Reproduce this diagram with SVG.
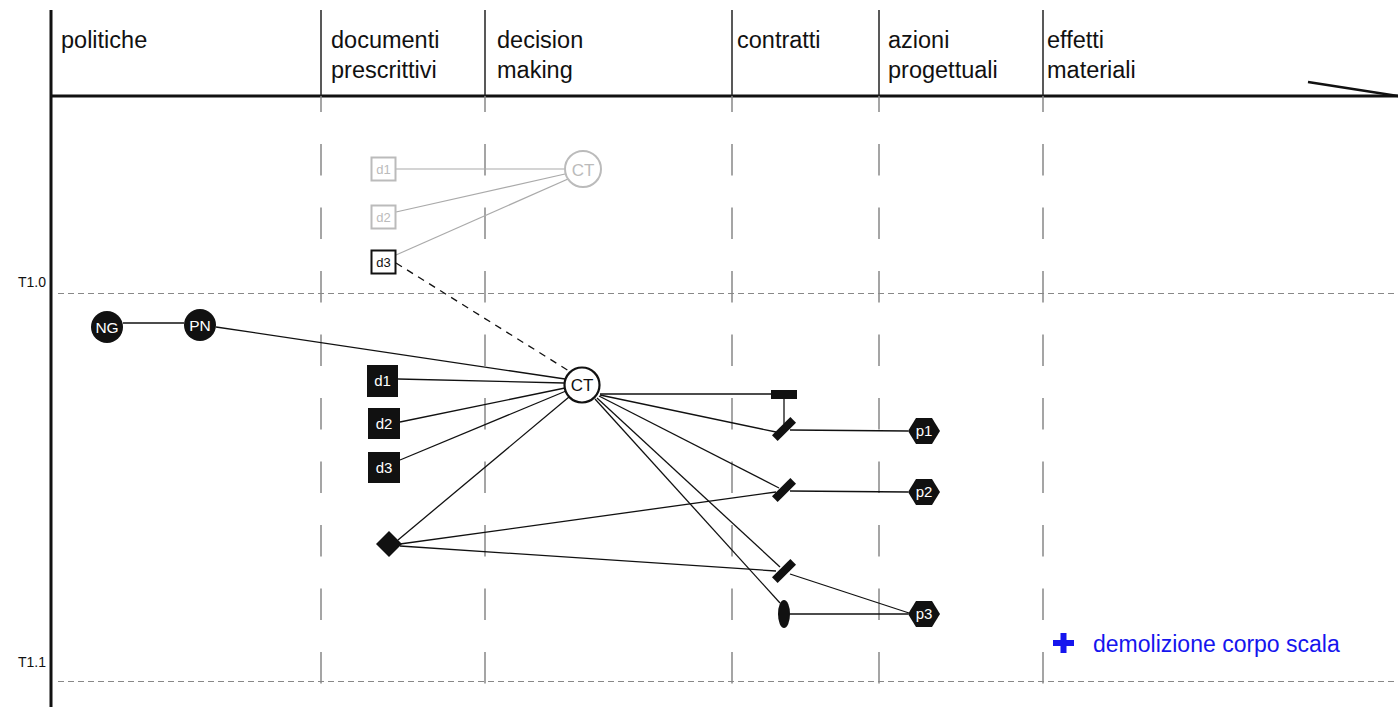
<svg xmlns="http://www.w3.org/2000/svg" width="1398" height="707" viewBox="0 0 1398 707">
<style>
.hdr{font-family:"Liberation Sans",Arial,sans-serif;font-size:23.5px;fill:#111}
.lbl{font-family:"Liberation Sans",Arial,sans-serif;font-size:14px;fill:#111}
.wt{font-family:"Liberation Sans",Arial,sans-serif;font-size:15px;fill:#fff;text-anchor:middle}
.gt{font-family:"Liberation Sans",Arial,sans-serif;font-size:13px;fill:#bbb;text-anchor:middle}
.colh{stroke:#222;stroke-width:1.5}
.cold{stroke:#888;stroke-width:1.5;stroke-dasharray:31.5 32;stroke-dashoffset:15.5}
.tl{stroke:#888;stroke-width:1;stroke-dasharray:6 4}
.e{stroke:#111;stroke-width:1.3;fill:none}
.eg{stroke:#aaa;stroke-width:1.2;fill:none}
.blk{fill:#111}
</style>
<rect width="1398" height="707" fill="#fff"/>
<g id="grid">
<line x1="51" y1="10" x2="51" y2="707" stroke="#111" stroke-width="3"/>
<line x1="51" y1="96" x2="1398" y2="96" stroke="#111" stroke-width="3"/>
<line x1="1308" y1="82" x2="1398" y2="96" stroke="#111" stroke-width="2.5"/>
<line class="colh" x1="321" y1="10" x2="321" y2="96"/>
<line class="colh" x1="485" y1="10" x2="485" y2="96"/>
<line class="colh" x1="732" y1="10" x2="732" y2="96"/>
<line class="colh" x1="879" y1="10" x2="879" y2="96"/>
<line class="colh" x1="1043" y1="10" x2="1043" y2="96"/>
<line class="cold" x1="321" y1="96" x2="321" y2="707"/>
<line class="cold" x1="485" y1="96" x2="485" y2="707"/>
<line class="cold" x1="732" y1="96" x2="732" y2="707"/>
<line class="cold" x1="879" y1="96" x2="879" y2="707"/>
<line class="cold" x1="1043" y1="96" x2="1043" y2="707"/>
<line class="tl" x1="58" y1="293.5" x2="1398" y2="293.5"/>
<line class="tl" x1="58" y1="681.5" x2="1398" y2="681.5"/>
<text class="hdr" x="61" y="48">politiche</text>
<text class="hdr" x="331" y="48">documenti</text>
<text class="hdr" x="331" y="78">prescrittivi</text>
<text class="hdr" x="497" y="48">decision</text>
<text class="hdr" x="497" y="78">making</text>
<text class="hdr" x="737" y="48">contratti</text>
<text class="hdr" x="888" y="48">azioni</text>
<text class="hdr" x="888" y="78">progettuali</text>
<text class="hdr" x="1047" y="48">effetti</text>
<text class="hdr" x="1047" y="78">materiali</text>
<text class="lbl" x="18" y="287">T1.0</text>
<text class="lbl" x="18" y="667">T1.1</text>
</g>
<g id="connectors">
<line class="eg" x1="396" y1="169" x2="564" y2="169"/>
<line class="eg" x1="396" y1="212" x2="565" y2="174"/>
<line class="eg" x1="396" y1="255" x2="568" y2="179"/>
<line class="e" x1="396" y1="263" x2="569" y2="371" stroke-dasharray="7 6"/>
<line class="e" x1="123" y1="323" x2="184" y2="323"/>
<line class="e" x1="216" y1="327" x2="565" y2="379"/>
<line class="e" x1="398" y1="379" x2="564" y2="383"/>
<line class="e" x1="400" y1="422" x2="565" y2="388"/>
<line class="e" x1="400" y1="460" x2="566" y2="391"/>
<line class="e" x1="398" y1="540" x2="569" y2="397"/>
<line class="e" x1="600" y1="394" x2="771" y2="394"/>
<line class="e" x1="784" y1="399" x2="784" y2="424"/>
<line class="e" x1="600" y1="395" x2="776" y2="432"/>
<line class="e" x1="599" y1="396" x2="779" y2="488"/>
<line class="e" x1="597" y1="398" x2="780" y2="567"/>
<line class="e" x1="595" y1="399" x2="780" y2="603"/>
<line class="e" x1="400" y1="544" x2="776" y2="492"/>
<line class="e" x1="400" y1="546" x2="776" y2="571"/>
<line class="e" x1="790" y1="430" x2="908" y2="431"/>
<line class="e" x1="790" y1="491" x2="908" y2="492"/>
<line class="e" x1="790" y1="574" x2="909" y2="613"/>
<line class="e" x1="790" y1="614" x2="908" y2="614"/>
</g>
<g id="g_d1"><rect x="371.5" y="157.5" width="24" height="23" fill="#fff" stroke="#bbb" stroke-width="2"/><text class="gt" x="383.5" y="174">d1</text></g>
<g id="g_d2"><rect x="371.5" y="205.5" width="24" height="23" fill="#fff" stroke="#bbb" stroke-width="2"/><text class="gt" x="383.5" y="222">d2</text></g>
<g id="g_d3"><rect x="371.5" y="250.5" width="24" height="23" fill="#fff" stroke="#111" stroke-width="2"/><text class="gt" x="383.5" y="267" style="fill:#111">d3</text></g>
<g id="g_CT"><circle cx="583" cy="169" r="18" fill="#fff" stroke="#bbb" stroke-width="2"/><text class="gt" x="583" y="175.5" style="font-size:17px">CT</text></g>
<g id="NG"><circle cx="107" cy="327" r="16" class="blk"/><text class="wt" x="107" y="332.5" style="font-size:15.5px">NG</text></g>
<g id="PN"><circle cx="200" cy="325" r="16" class="blk"/><text class="wt" x="200" y="330.5" style="font-size:15.5px">PN</text></g>
<g id="CT"><circle cx="582" cy="385" r="17.5" fill="#fff" stroke="#111" stroke-width="2.2"/><text x="582" y="391" text-anchor="middle" style="font-family:'Liberation Sans',Arial,sans-serif;font-size:17px;fill:#111">CT</text></g>
<g id="d1"><rect x="367" y="365" width="31" height="32" class="blk"/><text class="wt" x="382.5" y="386">d1</text></g>
<g id="d2"><rect x="368" y="408" width="32" height="31" class="blk"/><text class="wt" x="384" y="429">d2</text></g>
<g id="d3"><rect x="368" y="452" width="32" height="31" class="blk"/><text class="wt" x="384" y="473">d3</text></g>
<g id="diamond"><polygon points="389,531 402,544 389,557 376,544" class="blk"/></g>
<g id="contract"><rect x="771" y="390" width="26" height="9" class="blk"/></g>
<g id="s1"><rect x="771" y="425" width="26" height="8" class="blk" transform="rotate(-45 784 429)"/></g>
<g id="s2"><rect x="771" y="486" width="26" height="8" class="blk" transform="rotate(-45 784 490)"/></g>
<g id="s3"><rect x="771" y="567" width="26" height="8" class="blk" transform="rotate(-45 784 571)"/></g>
<g id="ell"><ellipse cx="784" cy="614" rx="6" ry="14" class="blk"/></g>
<g id="p1"><polygon points="908,431 916,418 932,418 940,431 932,444 916,444" class="blk"/><text class="wt" x="924" y="436">p1</text></g>
<g id="p2"><polygon points="908,492 916,479 932,479 940,492 932,505 916,505" class="blk"/><text class="wt" x="924" y="497">p2</text></g>
<g id="p3"><polygon points="908,614 916,601 932,601 940,614 932,627 916,627" class="blk"/><text class="wt" x="924" y="619">p3</text></g>
<g id="effect">
<rect x="1053" y="640" width="21" height="6" fill="#1515ee"/>
<rect x="1060.5" y="633" width="6" height="20" fill="#1515ee"/>
<text x="1093" y="652" style="font-family:'Liberation Sans',Arial,sans-serif;font-size:23px;fill:#1515ee">demolizione corpo scala</text>
</g>
</svg>
